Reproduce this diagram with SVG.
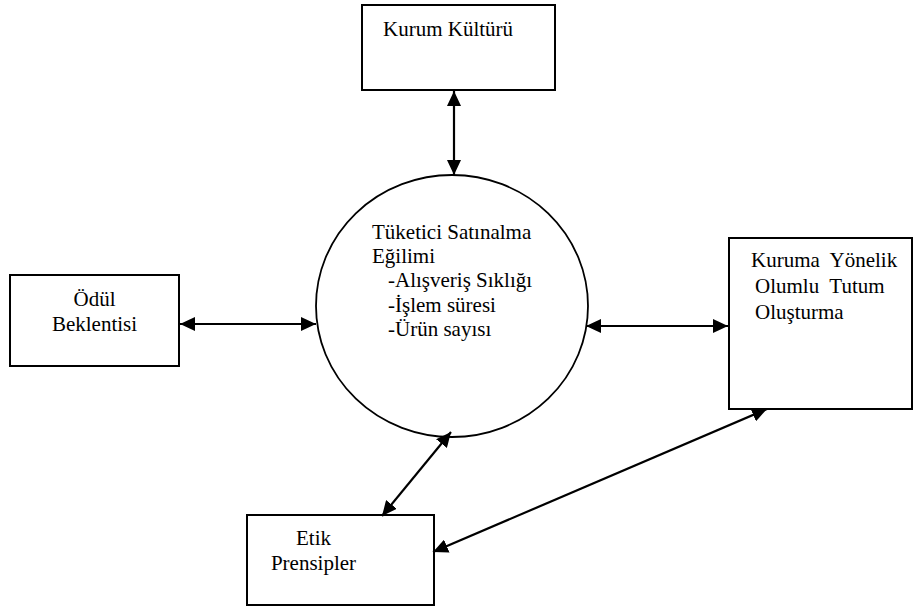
<svg xmlns="http://www.w3.org/2000/svg" width="913" height="610" viewBox="0 0 913 610">
<style>
.box{fill:#fff;stroke:#000;stroke-width:2}
.ell{fill:#fff;stroke:#000;stroke-width:1.8}
.t{font-family:'Liberation Serif','DejaVu Serif',serif;font-size:21px;fill:#000}
.c{fill:none;stroke:#000;stroke-width:2.2;marker-start:url(#ah);marker-end:url(#ah)}
</style>
<defs>
<marker id="ah" markerUnits="userSpaceOnUse" markerWidth="15" markerHeight="14" refX="15" refY="7" orient="auto-start-reverse" viewBox="0 0 15 14">
<path d="M0,0 L15,7 L0,14 z" fill="#000"/>
</marker>
</defs>
<rect width="913" height="610" fill="#fff"/>
<g id="kurum-kulturu">
<rect class="box" x="362" y="5" width="193" height="85"/>
<text class="t" x="383" y="36" font-family="Liberation Serif, serif">Kurum Kültürü</text>
</g>
<g id="tuketici">
<ellipse class="ell" cx="452" cy="306" rx="136" ry="131"/>
<text class="t" x="372" y="239">Tüketici Satınalma</text>
<text class="t" x="372" y="263">Eğilimi</text>
<text class="t" x="388" y="287">-Alışveriş Sıklığı</text>
<text class="t" x="388" y="312">-İşlem süresi</text>
<text class="t" x="388" y="336">-Ürün sayısı</text>
</g>
<g id="odul">
<rect class="box" x="10" y="275" width="169" height="91"/>
<text class="t" x="94.5" y="306" text-anchor="middle">Ödül</text>
<text class="t" x="94.5" y="331" text-anchor="middle">Beklentisi</text>
</g>
<g id="kuruma-yonelik">
<rect class="box" x="729" y="238" width="183" height="171"/>
<text class="t" x="751" y="267" xml:space="preserve">Kuruma  Yönelik</text>
<text class="t" x="755" y="293" xml:space="preserve">Olumlu  Tutum</text>
<text class="t" x="755" y="319">Oluşturma</text>
</g>
<g id="etik">
<rect class="box" x="247" y="515" width="187" height="90"/>
<text class="t" x="313.5" y="545" text-anchor="middle">Etik</text>
<text class="t" x="313.5" y="570" text-anchor="middle">Prensipler</text>
</g>
<g id="connectors">
<line class="c" x1="454" y1="91" x2="454" y2="175"/>
<line class="c" x1="180" y1="324" x2="316" y2="324"/>
<line class="c" x1="586" y1="326" x2="728" y2="326"/>
<line class="c" x1="451" y1="432" x2="382" y2="516"/>
<line class="c" x1="433" y1="552" x2="767" y2="409"/>
</g>
</svg>
